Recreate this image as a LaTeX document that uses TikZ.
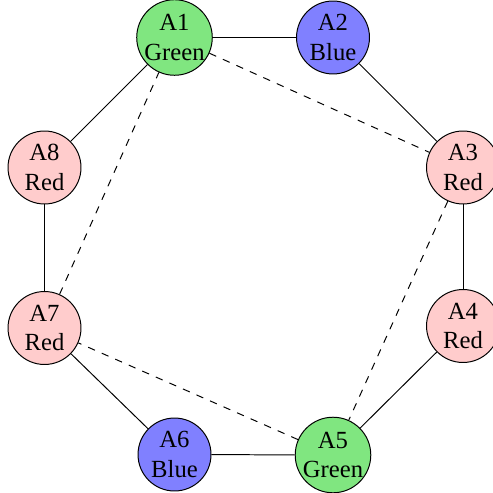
\documentclass[tikz,border=0pt]{standalone}
\usepackage{fontspec}
\setmainfont{Liberation Serif}
\definecolor{ngreen}{RGB}{128,230,128}
\definecolor{nblue}{RGB}{128,128,255}
\definecolor{nred}{RGB}{255,204,204}
\begin{document}
\begin{tikzpicture}[x=0.4057pt,y=-0.4057pt,
  vertex/.style={circle,draw,line width=0.4pt,minimum size=29.6pt,inner sep=0pt,
    align=center,font=\fontsize{10}{12}\selectfont},
  gnode/.style={vertex,fill=ngreen},
  bnode/.style={vertex,fill=nblue},
  rnode/.style={vertex,fill=nred},
  ring/.style={line width=0.4pt},
  chord/.style={line width=0.4pt,dashed}]
\useasboundingbox (0,0) rectangle (493,493);
\node[gnode] (a1) at (174.5,37.5) {A1\\Green};
\node[bnode] (a2) at (333,37.5)   {A2\\Blue};
\node[rnode] (a3) at (463,167.5)  {A3\\Red};
\node[rnode] (a4) at (463,326)    {A4\\Red};
\node[gnode] (a5) at (333,455)    {A5\\Green};
\node[bnode] (a6) at (174.5,454.5){A6\\Blue};
\node[rnode] (a7) at (44.5,328)   {A7\\Red};
\node[rnode] (a8) at (44.5,167.5) {A8\\Red};
\draw[ring] (a1) -- (a2);
\draw[ring] (a2) -- (a3);
\draw[ring] (a3) -- (a4);
\draw[ring] (a4) -- (a5);
\draw[ring] (a5) -- (a6);
\draw[ring] (a6) -- (a7);
\draw[ring] (a7) -- (a8);
\draw[ring] (a8) -- (a1);
\draw[chord] (a1) -- (a3);
\draw[chord] (a3) -- (a5);
\draw[chord] (a5) -- (a7);
\draw[chord] (a7) -- (a1);
\end{tikzpicture}
\end{document}
